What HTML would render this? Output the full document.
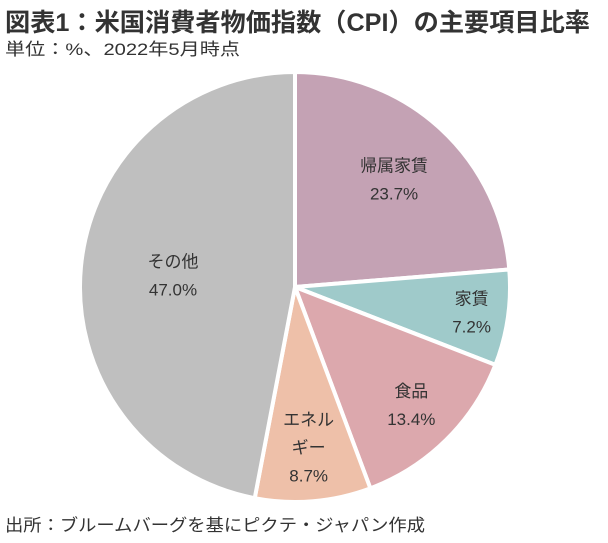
<!DOCTYPE html>
<html><head><meta charset="utf-8">
<style>
html,body{margin:0;padding:0;background:#fff;}
svg{display:block;font-family:"Liberation Sans","Noto Sans CJK JP",sans-serif;}
</style></head>
<body>
<svg id="chart" width="608" height="543" viewBox="0 0 608 543">
<text x="5" y="31" font-size="25" font-weight="bold" fill="#333" textLength="585" lengthAdjust="spacingAndGlyphs">図表1：米国消費者物価指数（CPI）の主要項目比率</text>
<text x="5" y="55" font-size="17" fill="#333" textLength="235" lengthAdjust="spacingAndGlyphs">単位：%、2022年5月時点</text>
<g id="slices"></g>
<g id="labels"></g>
<text x="5" y="531" font-size="17" fill="#333" textLength="420" lengthAdjust="spacingAndGlyphs">出所：ブルームバーグを基にピクテ・ジャパン作成</text>
</svg>
<script>
const categories = ["帰属家賃","家賃","食品","エネルギー","その他"];
const values = [23.7, 7.2, 13.4, 8.7, 47.0];
const labelLines = [["帰属家賃"],["家賃"],["食品"],["エネル","ギー"],["その他"]];
const colors = ["#c4a2b4","#9fcaca","#dca8ad","#eec0a9","#bfbfbf"];
const labelRadius = [0.68,0.83,0.77,0.75,0.57];
const cx=295, cy=287, r=215;
const NS="http://www.w3.org/2000/svg";
const sg=document.getElementById('slices'), lg=document.getElementById('labels');
const total=values.reduce((a,b)=>a+b,0);
let acc=0;
function pt(a,rr){return [cx+rr*Math.sin(a), cy-rr*Math.cos(a)];}
values.forEach((v,i)=>{
  const a0=acc/total*2*Math.PI; acc+=v; const a1=acc/total*2*Math.PI;
  const p0=pt(a0,r), p1=pt(a1,r);
  const large=(a1-a0)>Math.PI?1:0;
  const path=document.createElementNS(NS,'path');
  path.setAttribute('d',`M${cx},${cy} L${p0[0]},${p0[1]} A${r},${r} 0 ${large} 1 ${p1[0]},${p1[1]} Z`);
  path.setAttribute('fill',colors[i]);
  path.setAttribute('stroke','#fff');
  path.setAttribute('stroke-width','4');
  path.setAttribute('stroke-linejoin','round');
  
  
  sg.appendChild(path);
  const am=(a0+a1)/2;
  const lp=pt(am,r*labelRadius[i]);
  const lines=labelLines[i].concat([v.toFixed(1)+'%']);
  const lh=28;
  const y0=lp[1]-(lines.length-1)*lh/2+6;
  lines.forEach((t,j)=>{
    const tx=document.createElementNS(NS,'text');
    tx.setAttribute('x',lp[0]);
    tx.setAttribute('y',y0+j*lh);
    tx.setAttribute('text-anchor','middle');
    tx.setAttribute('font-size','17');
    tx.setAttribute('fill','#333');
    
    
    tx.textContent=t;
    lg.appendChild(tx);
  });
});
</script>
</body></html>
